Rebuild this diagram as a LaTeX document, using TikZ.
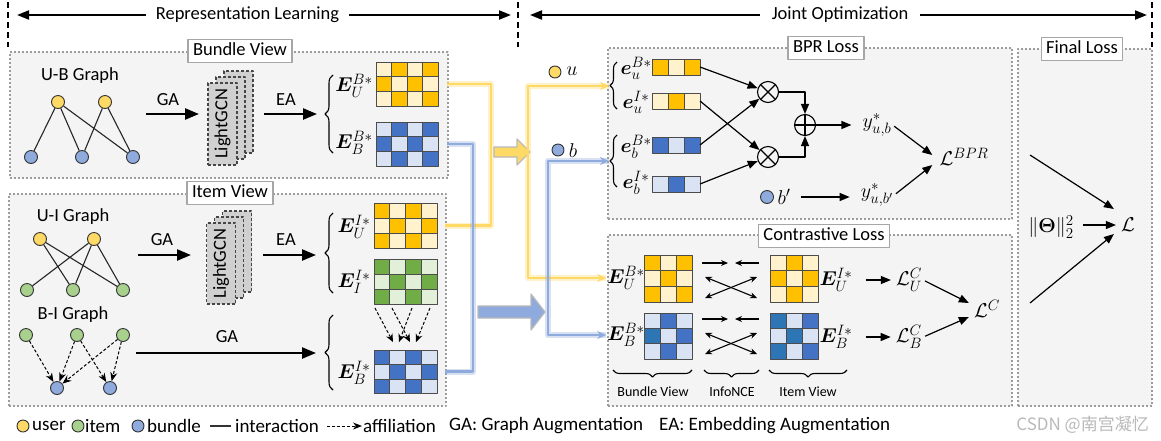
\RequirePackage{fix-cm}
\documentclass[tikz,border=0pt]{standalone}
\usepackage{amsmath,amssymb,bm}
\usepackage[no-math]{fontspec}
\setmainfont{Carlito}
\newfontfamily\cjkfont{Noto Sans CJK SC}
\usetikzlibrary{arrows.meta,decorations.pathreplacing,calc}
\DeclareMathSizes{20}{20}{15}{11}
\definecolor{yd}{HTML}{FFC000}
\definecolor{yl}{HTML}{FFF2CC}
\definecolor{bd}{HTML}{4472C4}
\definecolor{bdd}{HTML}{2E75B6}
\definecolor{bl}{HTML}{DAE3F3}
\definecolor{gd}{HTML}{70AD47}
\definecolor{gl}{HTML}{E2F0D9}
\definecolor{ny}{HTML}{FFD966}
\definecolor{ng}{HTML}{A9D18E}
\definecolor{nb}{HTML}{8FAADC}
\definecolor{pfill}{HTML}{F4F4F4}
\definecolor{pline}{HTML}{9C9C9C}
\definecolor{lgfill}{HTML}{D0D0D0}
\newcommand\fsA{\fontsize{18.5}{21}\selectfont}
\newcommand\fsB{\fontsize{19}{22}\selectfont}
\newcommand\fsS{\fontsize{14}{16}\selectfont}
\newcommand\fsM{\fontsize{20}{23}\selectfont}
\newcommand\cellgrid[6]{%
  \foreach \cellc [count=\cidx from 0] in {#6}{%
    \pgfmathtruncatemacro\cgx{mod(\cidx,#5)}%
    \pgfmathtruncatemacro\cgy{div(\cidx,#5)}%
    \filldraw[fill=\cellc, draw=black!70, line width=0.9pt] ({#1+\cgx*#3},{#2+\cgy*#4}) rectangle ++(#3,#4);
  }}
\newcommand\embmat[8]{%
  \cellgrid{#2}{#3}{#4}{#5}{#6}{#8}%
  \node[inner sep=0pt, outer sep=0pt, minimum width={#4*#6}, minimum height={#5*#7}, anchor=north west] (#1) at (#2,#3) {};}
\begin{document}
\begin{tikzpicture}[x=1pt,y=-1pt,line join=round,
  panel/.style={draw=pline, fill=pfill, line width=2.2pt, dash pattern=on 2pt off 2pt, inner sep=0pt, anchor=north west},
  ttl/.style={draw=gray!70, fill=white, line width=1.2pt, font=\fsA, inner xsep=5pt, inner ysep=3pt, text height=13pt, text depth=4pt},
  gn/.style={circle, draw=black!80, line width=0.9pt, minimum size=13pt, inner sep=0pt},
  gedge/.style={line width=1.1pt, black!85},
  aff/.style={line width=1pt, dash pattern=on 3pt off 2pt, -{Stealth[length=9pt,width=7pt]}},
  bigarr/.style={line width=2.4pt, -{Triangle[length=14pt,width=11pt]}},
  harr/.style={line width=2pt, -{Triangle[length=12pt,width=9pt]}},
  vdash/.style={line width=2pt, dash pattern=on 6pt off 4pt},
  lg/.style={draw=gray!55!black, fill=lgfill, line width=1.1pt, dash pattern=on 3pt off 2pt, minimum width=29pt, minimum height=82pt, inner sep=0pt},
  lbl/.style={font=\fsA},
  mth/.style={font=\fsM, inner sep=1pt},
  brc/.style={decorate, decoration={brace, amplitude=#1}, line width=1.1pt},
  brc/.default=8pt,
  barr/.style={line width=1.2pt, -{Triangle[length=10pt,width=8pt]}},
  narr/.style={line width=1.1pt, -{Stealth[length=7pt,width=6pt]}},
  ndarr/.style={line width=1.1pt, {Stealth[length=7pt,width=6pt]}-{Stealth[length=7pt,width=6pt]}},
  yconn/.style={draw=ny, line width=2.6pt, preaction={draw=ny, draw opacity=0.35, line width=6pt, -}},
  bconn/.style={draw=nb, line width=2.6pt, preaction={draw=nb, draw opacity=0.35, line width=6pt, -}},
  ctip/.style={-{Stealth[length=9pt,width=8pt]}},
  opn/.style={circle, draw, line width=1.1pt, minimum size=21pt, inner sep=0pt}
]
\useasboundingbox (0,0) rectangle (1161,440);
\fill[white] (0,0) rectangle (1161,440);

% ---------- header ----------
\draw[vdash] (8,2) -- (8,47);
\draw[vdash] (518,2) -- (518,47);
\draw[vdash] (1152,2) -- (1152,47);
\node[lbl, inner xsep=10pt] (RL) at (247.5,15) {Representation Learning};
\coordinate (RLl) at (17,15);
\coordinate (RLr) at (511,15);
\draw[harr] (RL.west) -- (RLl);
\draw[harr] (RL.east) -- (RLr);
\node[lbl, inner xsep=12pt] (JO) at (840,15) {Joint Optimization};
\coordinate (JOl) at (530,15);
\coordinate (JOr) at (1147,15);
\draw[harr] (JO.west) -- (JOl);
\draw[harr] (JO.east) -- (JOr);

% ---------- panels ----------
\node[panel, minimum width=438pt, minimum height=126pt] (PB) at (9,51) {};
\node[panel, minimum width=437pt, minimum height=212pt] (PI) at (8,193) {};
\node[panel, minimum width=404pt, minimum height=171pt] (PBPR) at (607,47) {};
\node[panel, minimum width=404pt, minimum height=171pt] (PCL) at (607,234) {};
\node[panel, minimum width=134pt, minimum height=357pt] (PF) at (1017,48) {};
\node[ttl] (TB) at (240,51) {Bundle View};
\node[ttl] (TI) at (230,193) {Item View};
\node[ttl] (TBPR) at (826,48) {BPR Loss};
\node[ttl] (TCL) at (824,236) {Contrastive Loss};
\node[ttl] (TF) at (1082,49) {Final Loss};

% ---------- bundle view ----------
\node[lbl] (UBG) at (80,76) {U-B Graph};
\node[gn, fill=ny] (u1) at (58,102) {};
\node[gn, fill=ny] (u2) at (105,102) {};
\node[gn, fill=nb] (b1) at (31,157) {};
\node[gn, fill=nb] (b2) at (82,157) {};
\node[gn, fill=nb] (b3) at (133,157) {};
\draw[gedge] (u1) -- (b1) (u1) -- (b2) (u1) -- (b3) (u2) -- (b2) (u2) -- (b3);

\node[lg] (LGa3) at (238.5,112) {};
\node[lg] (LGa2) at (230.5,118) {};
\node[lg] (LGa1) at (222.5,124) {};
\node[lbl, rotate=90] (LGat) at (LGa1) {LightGCN};

\coordinate (GAs1) at (146,114);
\coordinate (GAe1) at (199,114);
\draw[bigarr] (GAs1) -- (GAe1);
\node[lbl] (GAl1) at (168,100) {GA};
\coordinate (EAs1) at (264,114);
\coordinate (EAe1) at (317,114);
\draw[bigarr] (EAs1) -- (EAe1);
\node[lbl] (EAl1) at (286,100) {EA};
\draw[brc] (333,153) -- (333,75);

\node[mth] (lEUB) at (354,86) {$\bm{E}_U^{B*}$};
\node[mth] (lEBB) at (354,143) {$\bm{E}_B^{B*}$};
\embmat{EUB}{376}{62}{15.5}{14.7}{4}{3}{yl,yd,yl,yd,yd,yl,yd,yl,yl,yd,yl,yd}
\embmat{EBB}{376}{122}{15.5}{14.7}{4}{3}{bl,bd,bl,bd,bd,bl,bd,bl,bl,bd,bl,bd}

% ---------- item view ----------
\node[lbl] (UIG) at (73,217) {U-I Graph};
\node[gn, fill=ny] (u3) at (40,239) {};
\node[gn, fill=ny] (u4) at (94,239) {};
\node[gn, fill=ng] (g1) at (27,290) {};
\node[gn, fill=ng] (g2) at (73,290) {};
\node[gn, fill=ng] (g3) at (123,290) {};
\draw[gedge] (u3) -- (g2) (u3) -- (g3) (u4) -- (g1) (u4) -- (g2) (u4) -- (g3);

\node[lbl] (BIG) at (73,315) {B-I Graph};
\node[gn, fill=ng] (g4) at (26,335) {};
\node[gn, fill=ng] (g5) at (77,335) {};
\node[gn, fill=ng] (g6) at (123,335) {};
\node[gn, fill=nb] (b4) at (57,388) {};
\node[gn, fill=nb] (b5) at (110,388) {};
\draw[aff] (g4) -- (b4);
\draw[aff] (g5) -- (b4);
\draw[aff] (g5) -- (b5);
\draw[aff] (g6) -- (b4);
\draw[aff] (g6) -- (b5);

\node[lg, minimum height=81pt] (LGb3) at (237,251.5) {};
\node[lg, minimum height=81pt] (LGb2) at (229,257.5) {};
\node[lg, minimum height=81pt] (LGb1) at (221,263.5) {};
\node[lbl, rotate=90] (LGbt) at (LGb1) {LightGCN};

\coordinate (GAs2) at (138,255);
\coordinate (GAe2) at (191,255);
\draw[bigarr] (GAs2) -- (GAe2);
\node[lbl] (GAl2) at (162,240) {GA};
\coordinate (EAs2) at (263,255);
\coordinate (EAe2) at (316,255);
\draw[bigarr] (EAs2) -- (EAe2);
\node[lbl] (EAl2) at (286,240) {EA};
\coordinate (GAs3) at (136,353);
\coordinate (GAe3) at (316,353);
\draw[bigarr] (GAs3) -- (GAe3);
\node[lbl] (GAl3) at (227,337) {GA};

\draw[brc] (333,293) -- (333,213);
\draw[brc] (333,390) -- (333,315);
\node[mth] (lEUI) at (354,227) {$\bm{E}_U^{I*}$};
\node[mth] (lEII) at (354,282) {$\bm{E}_I^{I*}$};
\node[mth] (lEBI) at (354,373) {$\bm{E}_B^{I*}$};
\embmat{EUI}{374}{203}{15.75}{15}{4}{3}{yd,yl,yd,yl,yl,yd,yl,yd,yd,yl,yd,yl}
\embmat{EII}{374}{259}{15.75}{15}{4}{3}{gd,gl,gd,gl,gl,gd,gl,gd,gd,gl,gd,gl}
\embmat{EBI}{374}{350}{15.75}{14.5}{4}{3}{bd,bl,bd,bl,bl,bd,bl,bd,bd,bl,bd,bl}

\draw[aff, -{Stealth[length=8pt,width=7pt]}] ($(EII.south west)+(1,4)$) -- ($(EBI.north west)+(19,-8)$);
\draw[aff, -{Stealth[length=8pt,width=7pt]}] ($(EII.south west)+(18,4)$) -- ($(EBI.north west)+(36,-8)$);
\draw[aff, -{Stealth[length=8pt,width=7pt]}] ($(EII.south west)+(38,4)$) -- ($(EBI.north west)+(25,-8)$);
\draw[aff, -{Stealth[length=8pt,width=7pt]}] ($(EII.south west)+(56,4)$) -- ($(EBI.north west)+(42,-8)$);

% ---------- middle connectors ----------
\draw[yconn] ([xshift=9pt]EUB.east) -- ++(44,0) |- ([xshift=8pt]EUI.east);
\draw[bconn] ([xshift=9pt]EBB.east) -- ++(26,0) |- ([xshift=8pt]EBI.east);
\filldraw[fill=ny, draw=gray!55, line width=1.2pt] (494,147) -- (517,147) -- (517,139) -- (530,152) -- (517,165) -- (517,157) -- (494,157) -- cycle;
\filldraw[fill=nb, draw=gray!55, line width=1.2pt] (478,306) -- (531,306) -- (531,294) -- (545,312) -- (531,330) -- (531,318) -- (478,318) -- cycle;

% BPR braces (connector targets)
\draw[brc=7pt] (617,109) -- (617,62);
\draw[brc=7pt] (617,187) -- (617,135);
\coordinate (uin) at (609,86);
\coordinate (bin) at (609,161);

% contrastive labels
\node[mth] (CEUB) at (626,278) {$\bm{E}_U^{B*}$};
\node[mth] (CEBB) at (626,335) {$\bm{E}_B^{B*}$};

\coordinate (yv) at (528,152);
\coordinate (bv) at (548,312);
\draw[yconn, ctip] (yv) |- (uin);
\draw[yconn, ctip] (yv) |- (CEUB.west);
\draw[bconn, ctip] (bv) |- (bin);
\draw[bconn, ctip] (bv) |- (CEBB.west);

\node[gn, fill=ny, minimum size=12pt] (uDot) at (555,72) {};
\node[mth] (uLab) at (572,71) {$u$};
\node[gn, fill=nb, minimum size=12pt] (bDot) at (558,150) {};
\node[mth] (bLab) at (573,151) {$b$};

% ---------- BPR loss ----------
\node[mth] (leuB) at (636,68) {$\bm{e}_u^{B*}$};
\node[mth] (leuI) at (636,102) {$\bm{e}_u^{I*}$};
\node[mth] (lebB) at (636,147) {$\bm{e}_b^{B*}$};
\node[mth] (lebI) at (636,183) {$\bm{e}_b^{I*}$};
\embmat{vuB}{652}{59}{16}{16}{3}{1}{yd,yl,yd}
\embmat{vuI}{652}{93}{16}{16}{3}{1}{yl,yd,yl}
\embmat{vbB}{652}{137}{16}{16}{3}{1}{bd,bl,bd}
\embmat{vbI}{652}{176}{16}{16}{3}{1}{bl,bd,bl}

\node[opn] (m1) at (768,92) {};
\node[opn] (m2) at (768,157) {};
\node[opn] (pl) at (805,125) {};
\draw[line width=1.1pt] (m1.north west) -- (m1.south east) (m1.north east) -- (m1.south west);
\draw[line width=1.1pt] (m2.north west) -- (m2.south east) (m2.north east) -- (m2.south west);
\draw[line width=1.1pt] (pl.north) -- (pl.south) (pl.west) -- (pl.east);
\draw[barr] (vuB.east) -- (m1);
\draw[barr] (vbB.east) -- (m1);
\draw[barr] (vuI.east) -- (m2);
\draw[barr] (vbI.east) -- (m2);
\draw[barr] (m1.east) -| (pl.north);
\draw[barr] (m2.east) -| (pl.south);

\node[mth] (yub) at (877,125) {$y^*_{u,b}$};
\node[mth] (yubp) at (877,195) {$y^*_{u,b'}$};
\draw[barr] (pl.east) -- ($(pl.east -| yub.west)+(-10,0)$);
\node[gn, fill=nb, minimum size=13pt] (bpDot) at (767,197) {};
\node[mth] (bpLab) at (784,197) {$b'$};
\draw[barr] ($(bpLab.east)+(9,0)$) -- ($(bpLab.east -| yubp.west)+(-10,0)$);
\node[mth] (LBPR) at (964,157) {$\mathcal{L}^{BPR}$};
\draw[barr, shorten <=2pt] (yub.east) -- ($(LBPR.west)+(-6,-2)$);
\draw[barr, shorten <=2pt] (yubp.east) -- ($(LBPR.west)+(-6,8)$);

% ---------- contrastive loss ----------
\embmat{CUBm}{644}{255}{16}{15.7}{3}{3}{yd,yl,yd,yl,yd,yl,yd,yl,yd}
\embmat{CBBm}{644}{313}{16}{15.4}{3}{3}{bl,bd,bl,bdd,bl,bd,bl,bd,bl}
\embmat{CUIm}{770}{255}{16}{15.7}{3}{3}{yl,yd,yl,yd,yl,yd,yl,yd,yl}
\embmat{CBIm}{770}{313}{16}{15.4}{3}{3}{bdd,bl,bd,bl,bdd,bl,bdd,bl,bd}
\node[mth] (CEUI) at (836,280) {$\bm{E}_U^{I*}$};
\node[mth] (CEBI) at (836,337) {$\bm{E}_B^{I*}$};

\foreach \r/\dy in {U/0,B/56}{
  \coordinate (na\r) at (702,{263+\dy});
  \coordinate (nb\r) at (728,{263+\dy});
  \coordinate (nc\r) at (759,{263+\dy});
  \coordinate (nd\r) at (735,{263+\dy});
  \coordinate (ne\r) at (705,{277+\dy});
  \coordinate (nf\r) at (757,{298+\dy});
  \coordinate (ng\r) at (705,{298+\dy});
  \coordinate (nh\r) at (757,{277+\dy});
  \draw[narr] (na\r) -- (nb\r);
  \draw[narr] (nc\r) -- (nd\r);
  \draw[ndarr] (ne\r) -- (nf\r);
  \draw[ndarr] (ng\r) -- (nh\r);
}

\draw[brc=7pt] (692,370) -- (613,370);
\draw[brc=7pt] (759,370) -- (704,370);
\draw[brc=7pt] (847,370) -- (769,370);
\node[font=\fsS] (bvL) at (653,392) {Bundle View};
\node[font=\fsS] (infL) at (732,392) {InfoNCE};
\node[font=\fsS] (ivL) at (808,392) {Item View};

\node[mth] (LUC) at (909,280) {$\mathcal{L}_U^C$};
\node[mth] (LBC) at (909,337) {$\mathcal{L}_B^C$};
\node[mth] (LC) at (987,309) {$\mathcal{L}^C$};
\draw[barr] ($(CEUI.east)+(12,0)$) -- ($(LUC.west)+(-4,0)$);
\draw[barr] ($(CEBI.east)+(12,0)$) -- ($(LBC.west)+(-4,0)$);
\draw[barr, shorten <=2pt] (LUC.east) -- ($(LC.west)+(-4,-6)$);
\draw[barr, shorten <=2pt] (LBC.east) -- ($(LC.west)+(-4,8)$);

% ---------- final loss ----------
\coordinate (fa) at (1030,155);
\coordinate (fb) at (1030,303);
\node[mth] (LL) at (1128,225) {$\mathcal{L}$};
\node[mth] (TH) at (1051,227) {$\|\bm{\Theta}\|_2^2$};
\draw[barr] (fa) -- ($(LL.west)+(-6,-16)$);
\draw[barr] (fb) -- ($(LL.west)+(-6,9)$);
\draw[barr] ($(TH.east)+(8,-2)$) -- ($(LL.west)+(-4,0)$);

% ---------- legend ----------
\node[gn, fill=ny, minimum size=12pt] (lgU) at (23,426) {};
\node[font=\fsB, anchor=west, inner sep=1pt] (lgUt) at (31,426) {user};
\node[gn, fill=ng, minimum size=12pt] (lgI) at (78,426) {};
\node[font=\fsB, anchor=west, inner sep=1pt] (lgIt) at (84,426) {item};
\node[gn, fill=nb, minimum size=12pt] (lgB) at (138,426) {};
\node[font=\fsB, anchor=west, inner sep=1pt] (lgBt) at (146,426) {bundle};
\coordinate (lgL1) at (210,426);
\coordinate (lgL2) at (231,426);
\draw[line width=1.3pt, black!80] (lgL1) -- (lgL2);
\node[font=\fsB, anchor=west, inner sep=1pt] (lgLt) at (234,426) {interaction};
\coordinate (lgA1) at (327,426);
\coordinate (lgA2) at (362,426);
\draw[aff] (lgA1) -- (lgA2);
\node[font=\fsB, anchor=west, inner sep=1pt] (lgAt) at (362,426) {affiliation};
\node[font=\fsB, anchor=west, inner sep=1pt] (lgGA) at (448,426) {GA: Graph Augmentation};
\node[font=\fsB, anchor=west, inner sep=1pt] (lgEA) at (658,426) {EA: Embedding Augmentation};
\node[font=\cjkfont\fontsize{17}{19}\selectfont, text=gray!55, anchor=east, inner sep=1pt] (wm) at (1150,425) {CSDN @南宫凝忆};
\end{tikzpicture}
\end{document}
